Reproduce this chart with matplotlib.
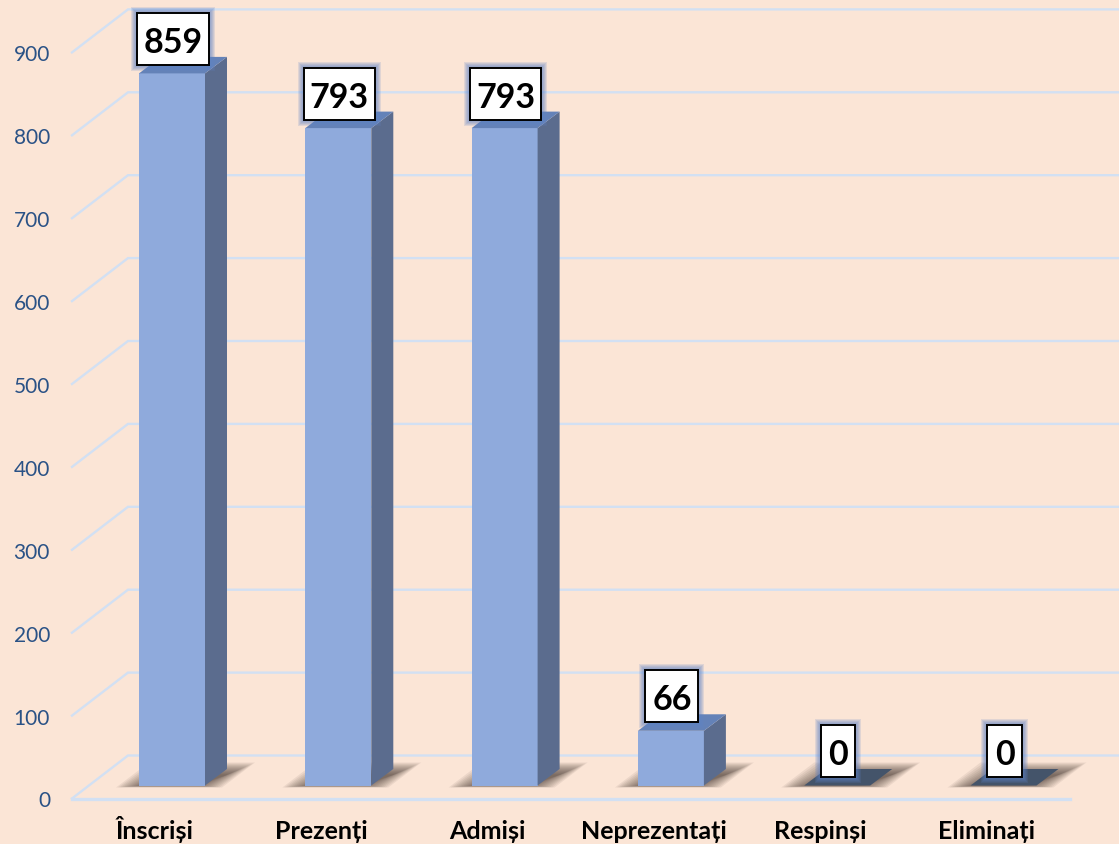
import matplotlib.pyplot as plt
from matplotlib.patches import Polygon, Rectangle

categorii = ['Înscriși', 'Prezenți', 'Admiși', 'Neprezentați', 'Respinși', 'Eliminați']
valori = [859, 793, 793, 66, 0, 0]
ticks = [0, 100, 200, 300, 400, 500, 600, 700, 800, 900]

plt.rcParams['font.family'] = ['Lato', 'Open Sans', 'DejaVu Sans']

W, H = 1119, 845
FUNDAL = '#FBE5D6'
GRID = '#D2E0F3'

# scara: un pixel pe x si pe y, axele ocupa toata figura
px_cat = 166.3
px_val = 0.829
x0_px = 172
y0_px = 799.5

fig = plt.figure(figsize=(W / 100, H / 100), dpi=100, facecolor=FUNDAL)
ax = fig.add_axes([0, 0, 1, 1])
ax.set_xlim(-x0_px / px_cat, (W - x0_px) / px_cat)
ax.set_ylim((y0_px - H) / px_val, y0_px / px_val)
ax.axis('off')

dx = lambda p: p / px_cat
dy = lambda p: p / px_val


def poligon(pts, **kw):
    ax.add_patch(Polygon(pts, closed=True, linewidth=0, **kw))


# liniile de grid: din fata spre spate, apoi pe peretele din spate
x_st = dx(72 - x0_px)
x_sp = dx(128 - x0_px)
x_dr = dx(W - x0_px)
ad = dy(43)
for t in ticks:
    ax.plot([x_st, x_sp, x_dr], [t, t + ad, t + ad], color=GRID, lw=1.7, zorder=1,
            solid_joinstyle='miter')
    ax.text(dx(50 - x0_px), t - dy(2), str(t), ha='right', va='center', fontsize=15, color='#2A5286')
ax.plot([x_st, dx(1070 - x0_px)], [0, 0], color=GRID, lw=2.4, zorder=1)

baza = dy(13)
lat = dx(33)
ad_x = dx(22)
ad_y = dy(16.5)

# umbrele de pe podea, estompate prin straturi
for i, v in enumerate(valori):
    for k in range(13):
        y1 = baza - dy(2 - 0.17 * k)
        y2 = baza + dy(23 - 1.0 * k)
        st = i - dx(56 - 2.2 * k)
        dr = i + dx(50 - 2.2 * k)
        poligon([(st, y1), (dr, y1), (dr + dx(33), y2), (st + dx(33), y2)],
                facecolor='#3F322C', alpha=0.08, zorder=2)

for i, v in enumerate(valori):
    x1 = i - lat
    x2 = i + lat
    y1 = baza
    y2 = baza + v
    if v == 0:
        poligon([(x1, y1), (x2, y1), (x2 + ad_x, y1 + ad_y), (x1 + ad_x, y1 + ad_y)],
                facecolor='#44546A', zorder=3)
    else:
        ax.add_patch(Rectangle((x1, y1), x2 - x1, v, facecolor='#8FAADC', linewidth=0, zorder=3))
        poligon([(x2, y1), (x2 + ad_x, y1 + ad_y), (x2 + ad_x, y2 + ad_y), (x2, y2)],
                facecolor='#5B6C8E', zorder=3)
        poligon([(x1, y2), (x2, y2), (x2 + ad_x, y2 + ad_y), (x1 + ad_x, y2 + ad_y)],
                facecolor='#6482B8', zorder=3)

    # eticheta cu chenar si aura albastra
    txt = str(v)
    lung = 16 + 18.5 * len(txt)
    cx = i + dx(1)
    jos = y2 + dy(8.5)
    inalt = dy(52)
    for k in range(6, 0, -1):
        ax.add_patch(Rectangle((cx - dx(lung / 2 + k), jos - dy(k)), dx(lung + 2 * k), inalt + dy(2 * k),
                               facecolor='#5F82C6', alpha=0.17, linewidth=0, zorder=4))
    ax.add_patch(Rectangle((cx - dx(lung / 2), jos), dx(lung), inalt, facecolor='white',
                           edgecolor='black', linewidth=1.4, zorder=5))
    ax.text(cx, jos + inalt / 2, txt, ha='center', va='center_baseline', fontsize=24.5,
            fontweight='bold', color='black', zorder=6)

    ax.text(i - dx(17), dy(-39.5), categorii[i], ha='center', va='baseline', fontsize=18,
            fontweight='bold', color='black')

fig.savefig('out.png', dpi=100, facecolor=FUNDAL)
